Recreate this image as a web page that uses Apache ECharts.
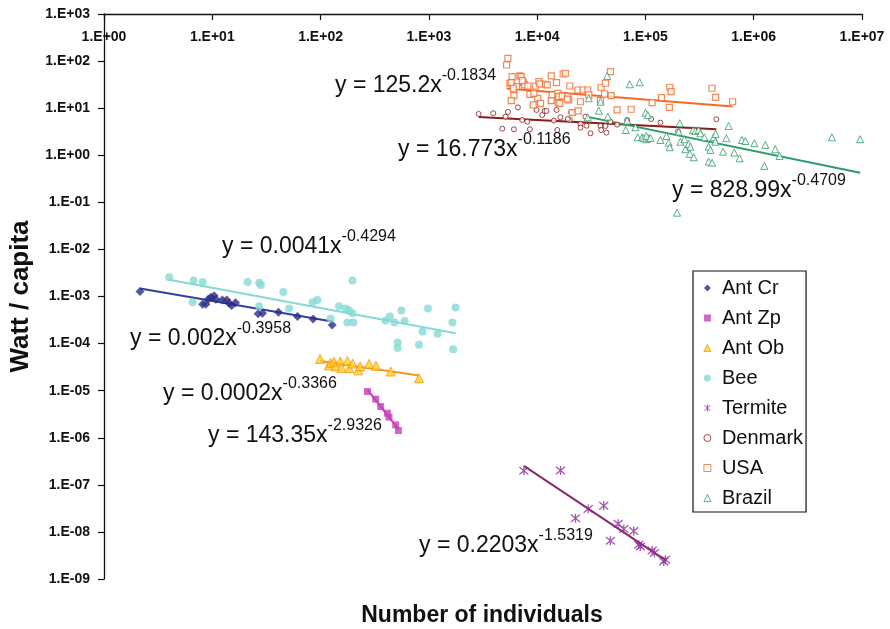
<!DOCTYPE html>
<html><head><meta charset="utf-8">
<script src="https://cdn.jsdelivr.net/npm/echarts@6/dist/echarts.min.js"></script>
<style>html,body{margin:0;padding:0;background:#fff}#c{width:890px;height:629px}</style>
</head><body><div id="c"></div>
<script>
// ---------------- DATA ----------------
const seriesNames = ['Ant Cr', 'Ant Zp', 'Ant Ob', 'Bee', 'Termite', 'Denmark', 'USA', 'Brazil'];

const antCrX = [2.15, 8.14, 8.73, 9.17, 10.4, 9.71, 10.8, 12.4, 13.6, 14.3, 15.1, 16.4, 26.5, 29.1, 40.9, 61.2, 85.3, 128];
const antCrY = [1.27e-3, 6.86e-4, 6.86e-4, 8.77e-4, 1.04e-3, 9.66e-4, 8.77e-4, 8.47e-4, 8.47e-4, 7.21e-4, 6.41e-4, 7.41e-4, 4.28e-4, 4.42e-4, 4.64e-4, 3.74e-4, 3.34e-4, 2.49e-4];

const antZpX = [271, 323, 359, 414, 428, 494, 523];
const antZpY = [9.57e-6, 6.6e-6, 4.59e-6, 3.33e-6, 2.74e-6, 1.88e-6, 1.42e-6];

const antObX = [98.9, 119, 124, 133, 138, 152, 156, 177, 184, 198, 223, 232, 281, 325, 444, 811];
const antObY = [4.73e-5, 3.44e-5, 3.89e-5, 4.15e-5, 3.28e-5, 4.19e-5, 3.05e-5, 4.29e-5, 3.01e-5, 3.76e-5, 2.70e-5, 3.28e-5, 3.71e-5, 3.37e-5, 2.55e-5, 1.84e-5];

const beeX = [4.0, 6.72, 8.14, 6.58, 21.2, 27.1, 28.1, 45.3, 197, 27.1, 51.2, 84.2, 93.6, 124, 148, 171, 183, 197, 177, 201, 399, 437, 481, 557, 598, 872, 981, 1205, 1648, 1766, 1676, 515, 515, 811];
const beeY = [2.57e-3, 2.18e-3, 2.04e-3, 7.57e-4, 2.04e-3, 1.97e-3, 1.76e-3, 1.25e-3, 2.18e-3, 6.22e-4, 5.53e-4, 7.57e-4, 8.47e-4, 3.40e-4, 6.22e-4, 5.53e-4, 5.02e-4, 4.42e-4, 2.79e-4, 2.79e-4, 3.08e-4, 3.74e-4, 2.79e-4, 5.02e-4, 3.03e-4, 1.80e-4, 5.53e-4, 1.61e-4, 2.79e-4, 5.81e-4, 7.6e-5, 1.06e-4, 8.1e-5, 9.4e-5];

const termiteX = [7540, 16440, 22600, 29600, 41200, 47500, 56000, 63100, 78000, 86700, 89900, 115300, 121000, 147600, 153000];
const termiteY = [1.98e-7, 2.01e-7, 1.96e-8, 3.05e-8, 3.58e-8, 6.47e-9, 1.49e-8, 1.16e-8, 1.05e-8, 5.32e-9, 4.9e-9, 4.03e-9, 3.55e-9, 2.36e-9, 2.56e-9];

const denmarkX = [2880, 3935, 4765, 5106, 5370, 6100, 6640, 7280, 8100, 8570, 9870, 11140, 11700, 12200, 14270, 15100, 15320, 20030, 20640, 25120, 25120, 28560, 31100, 38460, 39000, 42740, 43650, 47530, 54800, 67800, 113000, 137500, 200400, 451800, 16410, 19190, 13490, 27900];
const denmarkY = [7.53, 7.80, 3.67, 6.60, 8.30, 3.56, 10.4, 5.61, 5.17, 3.56, 9.16, 7.17, 8.72, 8.72, 5.43, 9.16, 3.44, 5.61, 8.18, 4.62, 3.85, 4.25, 2.93, 4.19, 3.44, 4.19, 3.02, 5.17, 4.47, 5.61, 5.90, 4.92, 3.17, 5.81, 6.41, 5.90, 14.2, 6.60];

const usaX = [5370, 5220, 5890, 6920, 7130, 5600, 5770, 6100, 6460, 7450, 7660, 8210, 8570, 6100, 5770, 9670, 10370, 10590, 10150, 9200, 10750, 11960, 12400, 13490, 13780, 13490, 15100, 15530, 15860, 15660, 16190, 17400, 18270, 17060, 19190, 19600, 20030, 21090, 23770, 25120, 23930, 26610, 29360, 29990, 39000, 38460, 41880, 47530, 48300, 54800, 73800, 115300, 140600, 167600, 172600, 166400, 412300, 445500, 638500, 9330, 42740, 7290, 6020, 18960];
const usaY = [114.6, 82.6, 46.6, 48.3, 46.6, 33.8, 34.8, 24.3, 28.6, 34.8, 31.1, 29.6, 19.7, 18.4, 14.4, 29.6, 36.5, 32.7, 16.2, 11.7, 12.7, 32.2, 31.1, 48.3, 19.1, 14.4, 34.8, 20.7, 17.5, 13.1, 12.7, 53.2, 55.1, 18.2, 17.5, 14.9, 29.6, 8.02, 24.3, 13.7, 8.72, 24.3, 24.3, 19.1, 27.8, 14.4, 20.0, 59.6, 18.4, 9.16, 9.48, 13.1, 16.7, 27.8, 22.4, 10.4, 26.5, 17.0, 13.7, 20.7, 33.8, 38.4, 26.5, 15.5];

const brazilX = [44350, 71600, 88600, 29990, 38460, 37080, 44900, 29360, 100000, 105000, 67800, 65800, 80900, 84900, 93300, 96400, 102100, 107200, 102100, 137500, 164100, 167600, 207200, 210200, 229000, 234000, 250800, 260000, 256400, 279200, 275500, 289000, 310300, 321600, 350100, 383600, 398000, 383600, 412300, 426600, 442600, 445500, 521200, 558500, 586400, 662200, 741300, 779800, 837000, 1014000, 1280000, 1253000, 1582000, 1733000, 5272000, 9620000, 196000, 156300, 202800, 111200];
const brazilY = [48.3, 32.2, 35.5, 16.2, 13.7, 8.85, 6.60, 6.41, 8.02, 7.17, 5.43, 3.44, 3.93, 2.41, 2.41, 2.30, 2.19, 2.30, 2.57, 2.11, 1.85, 1.48, 4.78, 1.94, 2.19, 1.34, 1.74, 1.52, 1.07, 0.907, 3.44, 3.28, 3.44, 2.93, 2.41, 1.52, 1.30, 0.731, 0.697, 2.41, 1.94, 2.83, 1.19, 2.30, 4.19, 1.14, 0.863, 2.11, 2.01, 1.80, 1.66, 0.593, 1.34, 0.966, 2.41, 2.19, 0.0604, 2.57, 3.17, 2.33];

// Power trend lines y = a * x^b (as printed on the chart)
const fitA = [0.002, 143.35, 0.0002, 0.0041, 0.2203, 16.773, 125.2, 828.99];
const fitB = [-0.3958, -2.9326, -0.3366, -0.4294, -1.5319, -0.1186, -0.1834, -0.4709];

const xTickLabels = ['1.E+00', '1.E+01', '1.E+02', '1.E+03', '1.E+04', '1.E+05', '1.E+06', '1.E+07'];
const yTickLabels = ['1.E-09', '1.E-08', '1.E-07', '1.E-06', '1.E-05', '1.E-04', '1.E-03', '1.E-02', '1.E-01', '1.E+00', '1.E+01', '1.E+02', '1.E+03'];

const xAxisTitle = 'Number of individuals';
const yAxisTitle = 'Watt / capita';

// ---------------- STYLE / LAYOUT ----------------
const FONT = '"Liberation Sans", Arial, Helvetica, sans-serif';
const allX = [antCrX, antZpX, antObX, beeX, termiteX, denmarkX, usaX, brazilX];
const allY = [antCrY, antZpY, antObY, beeY, termiteY, denmarkY, usaY, brazilY];

const asterisk = 'path://M0,0L10,10M10,0L0,10M5,-1L5,11';
const markerStyles = [
  { symbol: 'diamond', size: 9, itemStyle: { color: '#2D2A88' } },
  { symbol: 'rect', size: 7, itemStyle: { color: '#C440B8' } },
  { symbol: 'triangle', size: 9, itemStyle: { color: '#FFD21F', borderColor: '#F7941D', borderWidth: 1 } },
  { symbol: 'circle', size: 8, itemStyle: { color: '#86DAD6' } },
  { symbol: asterisk, size: 9, itemStyle: { color: 'none', borderColor: '#8E2A9A', borderWidth: 1.3 } },
  { symbol: 'circle', size: 5, itemStyle: { color: '#ffffff', borderColor: '#8B1A1A', borderWidth: 1 } },
  { symbol: 'rect', size: 6, itemStyle: { color: '#ffffff', borderColor: '#F26A2A', borderWidth: 1.2 } },
  { symbol: 'triangle', size: 7, itemStyle: { color: '#ffffff', borderColor: '#2E9B6A', borderWidth: 1 } }
];
const lineColors = ['#3040A2', '#C440B8', '#F7941D', '#86DAD6', '#8B2A66', '#8B1C1C', '#F26A2A', '#2E9B6A'];
// equation label anchors (left x, middle y) in px, same order as seriesNames
const eqPos = [[130, 340], [208, 437], [163, 395], [222, 248], [419, 547], [398, 151], [335, 87], [672, 192]];

const chart = echarts.init(document.getElementById('c'), null, { renderer: 'canvas' });

const series = [];
seriesNames.forEach((name, i) => {
  const ms = markerStyles[i];
  series.push({
    name: name, type: 'scatter', symbol: ms.symbol, symbolSize: ms.size,
    itemStyle: ms.itemStyle, z: 3,
    data: allX[i].map((x, k) => [x, allY[i][k]])
  });
});
seriesNames.forEach((name, i) => {
  const xs = allX[i];
  const x0 = Math.min.apply(null, xs), x1 = Math.max.apply(null, xs);
  const f = x => fitA[i] * Math.pow(x, fitB[i]);
  series.push({
    name: name + ' trend', type: 'line', showSymbol: false, silent: true, z: 2,
    lineStyle: { color: lineColors[i], width: 2 },
    data: [[x0, f(x0)], [x1, f(x1)]]
  });
});

// Equation texts
const ctx = document.createElement('canvas').getContext('2d');
const graphics = [];
seriesNames.forEach((name, i) => {
  const main = 'y = ' + fitA[i] + 'x';
  const sup = String(fitB[i]);
  ctx.font = '23px ' + FONT;
  const w = ctx.measureText(main).width;
  const [px, py] = eqPos[i];
  graphics.push({ type: 'text', left: px, top: py - 13, z: 10,
    style: { text: main, font: '23px ' + FONT, fill: '#111' } });
  graphics.push({ type: 'text', left: px + w, top: py - 19, z: 10,
    style: { text: sup, font: '16px ' + FONT, fill: '#111' } });
});
ctx.font = 'bold 23px ' + FONT;
const titleW = ctx.measureText(xAxisTitle).width;
graphics.push({ type: 'text', left: 482 - titleW / 2, top: 604, z: 10,
  style: { text: xAxisTitle, font: 'bold 23px ' + FONT, fill: '#111' } });

const expOf = v => Math.round(Math.log10(v));

chart.setOption({
  backgroundColor: '#ffffff',
  animation: false,
  grid: { left: 103, top: 14, right: 28, bottom: 50, containLabel: false },
  xAxis: {
    type: 'log', logBase: 10, min: 1, max: 1e7, interval: 1, position: 'top',
    axisLine: { onZero: false, lineStyle: { color: '#111', width: 1.3 } },
    axisTick: { inside: true, length: 6, lineStyle: { color: '#111', width: 1.2 } },
    axisLabel: { inside: true, margin: 16, fontSize: 14, fontWeight: 'bold', color: '#111', fontFamily: FONT,
      formatter: v => xTickLabels[expOf(v)] },
    splitLine: { show: false }, minorTick: { show: false }
  },
  yAxis: {
    type: 'log', logBase: 10, min: 1e-9, max: 1e3, interval: 1,
    name: yAxisTitle, nameLocation: 'middle', nameGap: 70, nameRotate: 90,
    nameTextStyle: { fontSize: 26, fontWeight: 'bold', color: '#111', fontFamily: FONT },
    axisLine: { onZero: false, lineStyle: { color: '#111', width: 1.3 } },
    axisTick: { inside: false, length: 6, lineStyle: { color: '#111', width: 1.2 } },
    axisLabel: { margin: 14, fontSize: 14, fontWeight: 'bold', color: '#111', fontFamily: FONT,
      formatter: v => yTickLabels[expOf(v) + 9] },
    splitLine: { show: false }, minorTick: { show: false }
  },
  legend: {
    data: seriesNames, orient: 'vertical', left: 693, top: 271,
    backgroundColor: '#fff', borderColor: '#111', borderWidth: 1.2,
    padding: [7, 3, 4, 9], itemGap: 10, itemWidth: 7, itemHeight: 7,
    itemStyle: { borderWidth: 1 },
    textStyle: { fontSize: 20, fontFamily: FONT, color: '#111', lineHeight: 20, padding: [0, 0, 0, 6] }
  },
  series: series,
  graphic: graphics
});
</script>
</body></html>
